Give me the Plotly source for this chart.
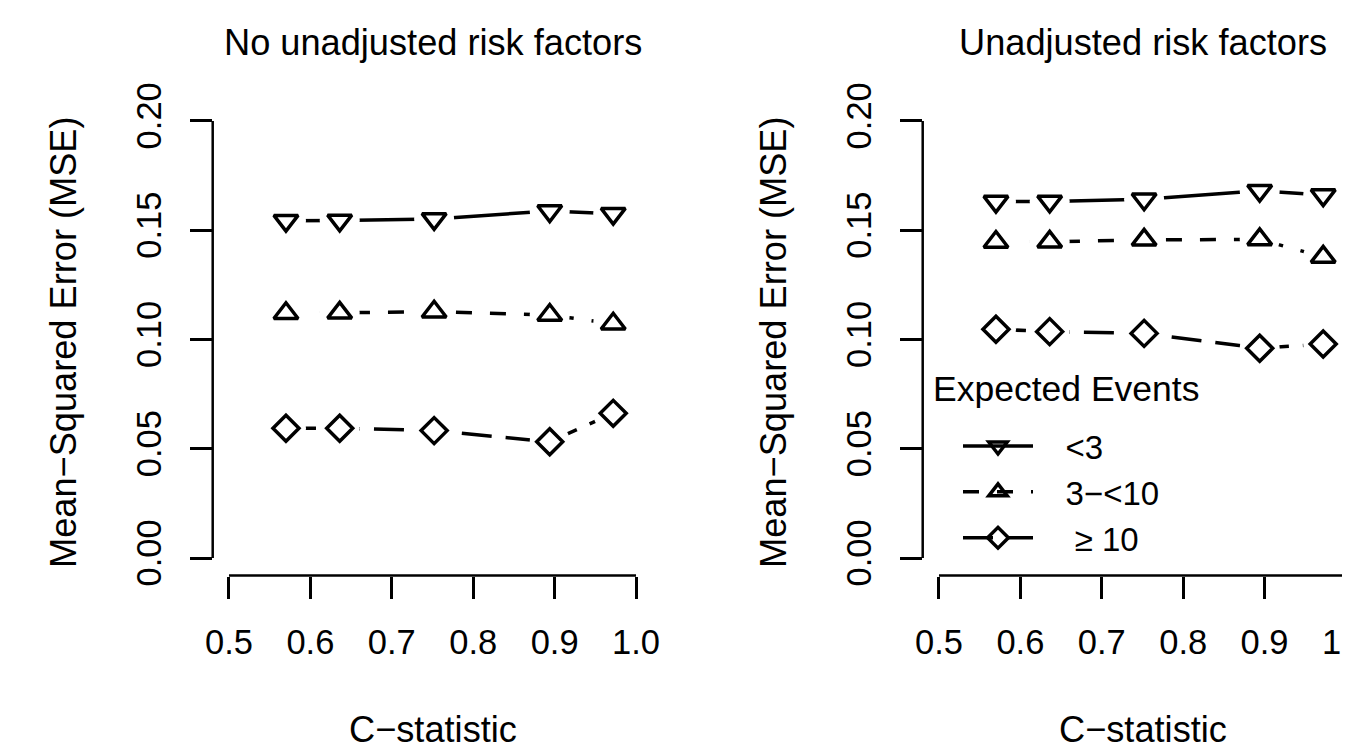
import plotly.graph_objects as go

# ---------------- data ----------------
c_stat = [0.570, 0.636, 0.752, 0.894, 0.972]

groups = ["<3", "3\u2212<10", "\u2265 10"]

# Panel 1: No unadjusted risk factors
mse_no_lt3 = [0.1544, 0.1545, 0.1552, 0.1588, 0.1576]
mse_no_3to10 = [0.1120, 0.1122, 0.1127, 0.1112, 0.1072]
mse_no_ge10 = [0.0594, 0.0594, 0.0583, 0.0532, 0.0662]

# Panel 2: Unadjusted risk factors
mse_un_lt3 = [0.1631, 0.1632, 0.1642, 0.1681, 0.1661]
mse_un_3to10 = [0.1446, 0.1447, 0.1456, 0.1458, 0.1378]
mse_un_ge10 = [0.1047, 0.1036, 0.1028, 0.0960, 0.0979]

x_ticks = [0.5, 0.6, 0.7, 0.8, 0.9, 1.0]
y_ticks = [0.00, 0.05, 0.10, 0.15, 0.20]

titles = ["No unadjusted risk factors", "Unadjusted risk factors"]
x_title = "C\u2212statistic"
y_title = "Mean\u2212Squared Error (MSE)"
legend_title = "Expected Events"

# ---------------- styling ----------------
OFF = 8                      # page body margin of the browser
W, H = 1350 - OFF, 744 - OFF
FONT = "Liberation Sans, Arial, sans-serif"
FS = 34.5
FS_T = 36.2
FS_L = 33
symbols = ["triangle-down-open", "triangle-up-open", "diamond-open"]
msizes = [21, 21, 20]
dashes = ["solid", "16px,18px", "30px,14px"]
legend_pad = ["\u00a0\u00a0\u00a0", "\u00a0\u00a0\u00a0", "\u00a0\u00a0\u00a0\u00a0"]

def px_x(p):
    return (p - OFF) / W

def px_y(p):
    return 1 - (p - OFF) / H

ydom = [px_y(575.5), px_y(103.5)]
x1dom = [px_x(212.7), px_x(652.3)]
x2dom = [px_x(922.7), 1.0]
yrange = [-0.008, 0.208]
x1range = [0.48, 1.02]
x2range = [0.48, 0.48 + (1350 - 922.7) / 814.0]

fig = go.Figure()

panels = [
    ("x", "y", [mse_no_lt3, mse_no_3to10, mse_no_ge10], False),
    ("x2", "y2", [mse_un_lt3, mse_un_3to10, mse_un_ge10], True),
]

LW = 3.5
# lines (with markers, used for legend)
for xa, ya, series, show in panels:
    for i, vals in enumerate(series):
        fig.add_trace(go.Scatter(
            x=c_stat, y=vals, xaxis=xa, yaxis=ya,
            mode="lines+markers", name=legend_pad[i] + groups[i], showlegend=show,
            line=dict(color="black", width=LW, dash=dashes[i]),
            marker=dict(symbol=symbols[i], size=msizes[i], color="black",
                        line=dict(width=LW, color="black")),
            hoverinfo="skip",
        ))
# white gaps around points (type="b" look)
for xa, ya, series, show in panels:
    for i, vals in enumerate(series):
        fig.add_trace(go.Scatter(
            x=c_stat, y=vals, xaxis=xa, yaxis=ya, mode="markers",
            showlegend=False,
            marker=dict(symbol="circle", size=40, color="white", line=dict(width=0)),
            hoverinfo="skip",
        ))
# markers on top
for xa, ya, series, show in panels:
    for i, vals in enumerate(series):
        fig.add_trace(go.Scatter(
            x=c_stat, y=vals, xaxis=xa, yaxis=ya, mode="markers",
            showlegend=False,
            marker=dict(symbol=symbols[i], size=msizes[i], color="black",
                        line=dict(width=LW, color="black")),
            hoverinfo="skip",
        ))

axis_common = dict(
    showgrid=False, zeroline=False, showline=False, automargin=False,
    ticks="outside", ticklen=22, tickwidth=2.5, tickcolor="black",
    tickfont=dict(family=FONT, size=FS, color="black"),
    ticklabeloverflow="allow",
)

fig.update_layout(
    width=W, height=H,
    margin=dict(l=0, r=0, t=0, b=0, pad=0, autoexpand=False),
    paper_bgcolor="white", plot_bgcolor="white",
    font=dict(family=FONT, size=FS, color="black"),
    xaxis=dict(domain=x1dom, range=x1range, anchor="y", tickvals=x_ticks,
               ticktext=[f"{v:.1f}" for v in x_ticks], ticklabelstandoff=14,
               **axis_common),
    yaxis=dict(domain=ydom, range=yrange, anchor="x", tickvals=y_ticks,
               ticktext=[f"{v:.2f}" for v in y_ticks], tickangle=-90,
               ticklabelstandoff=15, **axis_common),
    xaxis2=dict(domain=x2dom, range=x2range, anchor="y2", tickvals=x_ticks,
                ticktext=[f"{v:.1f}" for v in x_ticks], ticklabelstandoff=14,
                **axis_common),
    yaxis2=dict(domain=ydom, range=yrange, anchor="x2", tickvals=y_ticks,
                ticktext=[f"{v:.2f}" for v in y_ticks], tickangle=-90,
                ticklabelstandoff=15, **axis_common),
    legend=dict(
        x=px_x(958), y=px_y(418), xanchor="left", yanchor="top",
        bgcolor="rgba(0,0,0,0)", borderwidth=0,
        font=dict(family=FONT, size=FS_L, color="black"),
        itemwidth=70, tracegroupgap=0,
    ),
)

# R-style axis lines spanning only the tick range
for xa, ya in [("x", "y"), ("x2", "y2")]:
    fig.add_shape(type="line", xref=xa, yref=f"{ya} domain",
                  x0=x_ticks[0], x1=x_ticks[-1], y0=0, y1=0,
                  line=dict(color="black", width=2.5))
    fig.add_shape(type="line", xref=f"{xa} domain", yref=ya,
                  x0=0, x1=0, y0=y_ticks[0], y1=y_ticks[-1],
                  line=dict(color="black", width=2.5))

# legend title
fig.add_annotation(text=legend_title, x=px_x(931), y=px_y(389), xref="paper", yref="paper",
                   showarrow=False, xanchor="left", yanchor="middle",
                   font=dict(family=FONT, size=35.5, color="black"))

# titles
for cx, t in [(432.5, titles[0]), (1142.5, titles[1])]:
    fig.add_annotation(text=t, x=px_x(cx), y=px_y(42), xref="paper", yref="paper",
                       showarrow=False, xanchor="center", yanchor="middle",
                       font=dict(family=FONT, size=FS_T, color="black"))
    fig.add_annotation(text=x_title, x=px_x(cx), y=px_y(729), xref="paper", yref="paper",
                       showarrow=False, xanchor="center", yanchor="middle",
                       font=dict(family=FONT, size=FS_T, color="black"))
for cx in [63, 773]:
    fig.add_annotation(text=y_title, x=px_x(cx), y=px_y(342), xref="paper", yref="paper",
                       showarrow=False, xanchor="center", yanchor="middle", textangle=-90,
                       font=dict(family=FONT, size=FS_T, color="black"))

fig.write_html("out.html")
